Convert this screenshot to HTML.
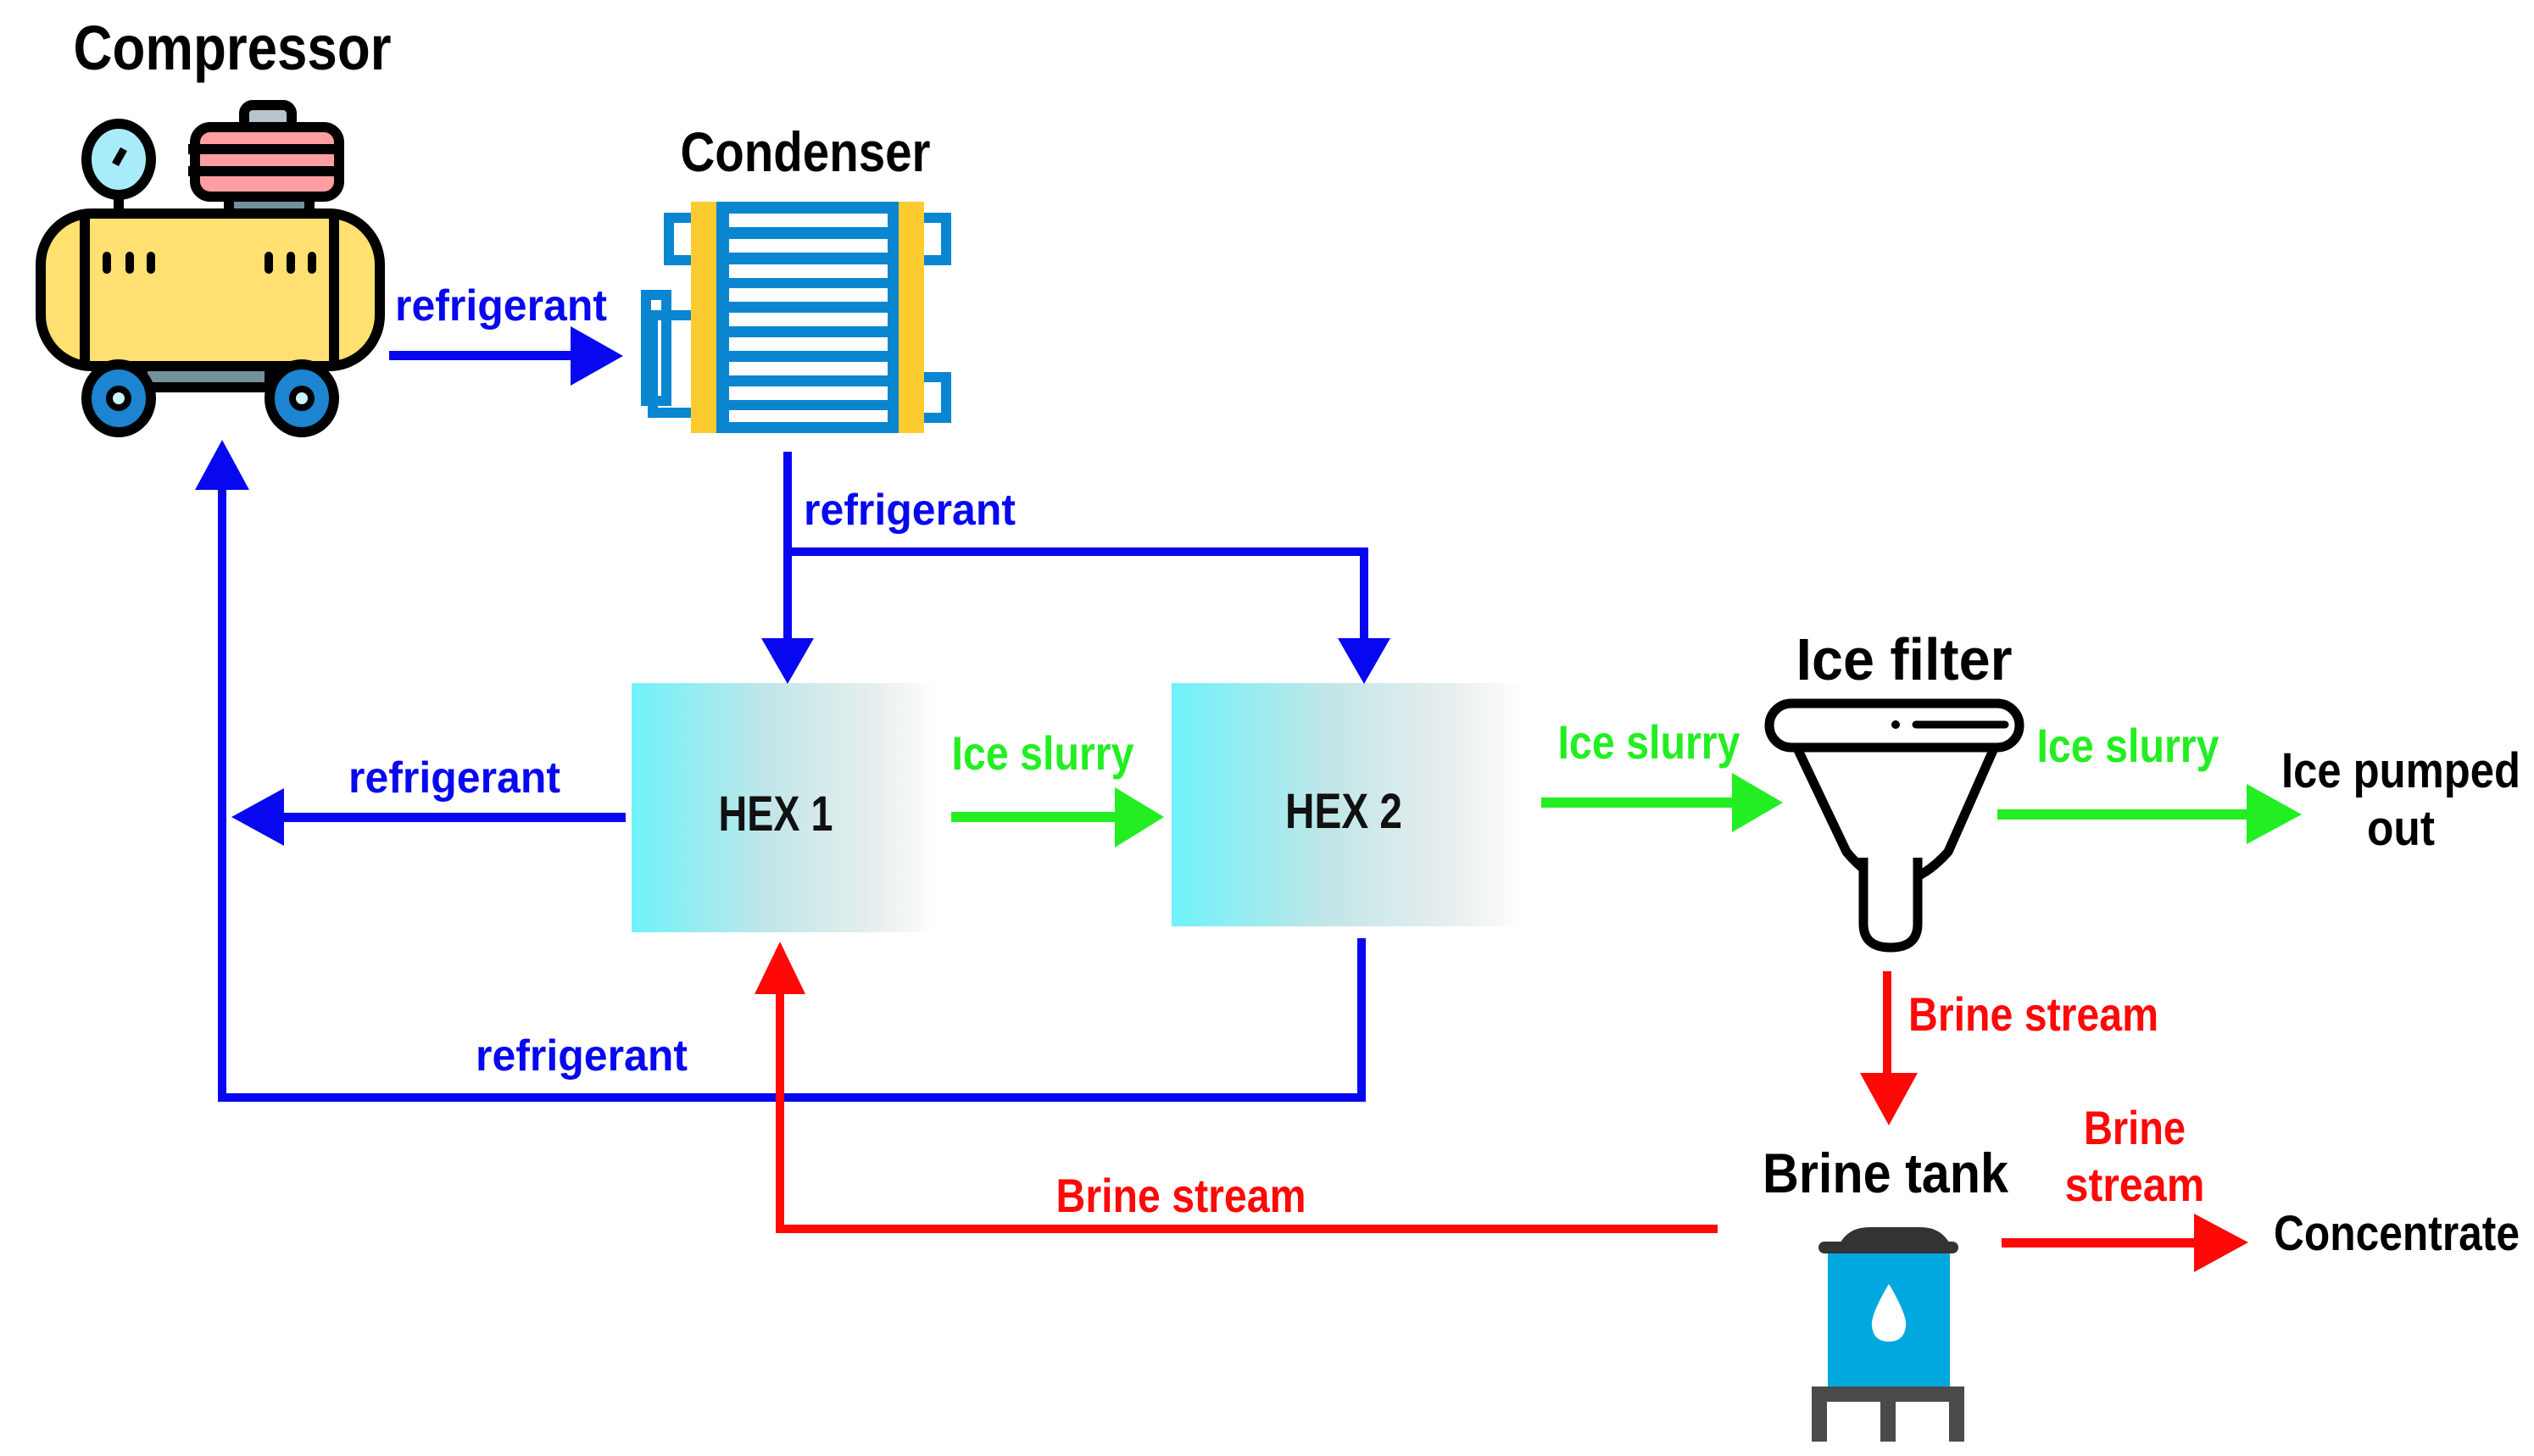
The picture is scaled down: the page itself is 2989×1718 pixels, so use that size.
<!DOCTYPE html>
<html><head><meta charset="utf-8"><style>
html,body{margin:0;padding:0;background:#fff;}
svg{display:block;}
text{font-family:"Liberation Sans",sans-serif;font-weight:bold;}
</style></head><body>
<svg width="2989" height="1718" viewBox="0 0 2989 1718" xmlns="http://www.w3.org/2000/svg">
<defs>
<linearGradient id="hg" x1="0" x2="1" y1="0" y2="0">
<stop offset="0" stop-color="#6ef2f8"/><stop offset="0.45" stop-color="#c2e6e8"/><stop offset="0.8" stop-color="#e8eeee"/><stop offset="1" stop-color="#ffffff"/>
</linearGradient>
</defs>

<!-- Compressor icon -->
<g stroke="#000" stroke-width="12" stroke-linejoin="round">
<rect x="288" y="124" width="56" height="40" rx="10" fill="#b8c4cc"/>
<rect x="230" y="150" width="170" height="82" rx="18" fill="#ff9ea0"/>
<line x1="222" y1="176" x2="405" y2="176"/>
<line x1="222" y1="202" x2="405" y2="202"/>
<rect x="270" y="232" width="95" height="20" fill="#74909a"/>
<line x1="140" y1="232" x2="140" y2="252"/>
<ellipse cx="140" cy="188" rx="38" ry="42" fill="#a8ecfa"/>
<line x1="146" y1="176" x2="136" y2="194" stroke-width="9"/>
<rect x="48" y="252" width="400" height="180" rx="60" fill="#ffe070"/>
<line x1="100" y1="258" x2="100" y2="428"/>
<line x1="394" y1="258" x2="394" y2="428"/>
<rect x="168" y="432" width="150" height="25" fill="#74909a"/>
<ellipse cx="140" cy="470" rx="38" ry="40" fill="#1c84d0"/>
<ellipse cx="356" cy="470" rx="38" ry="40" fill="#1c84d0"/>
<circle cx="140" cy="470" r="11" fill="#cdf2f8" stroke-width="8"/>
<circle cx="356" cy="470" r="11" fill="#cdf2f8" stroke-width="8"/>
</g>
<g stroke="#000" stroke-width="10" stroke-linecap="round">
<line x1="126" y1="302" x2="126" y2="318"/><line x1="153" y1="302" x2="153" y2="318"/><line x1="178" y1="302" x2="178" y2="318"/>
<line x1="317" y1="302" x2="317" y2="318"/><line x1="343" y1="302" x2="343" y2="318"/><line x1="368" y1="302" x2="368" y2="318"/>
</g>
<text x="274" y="82" font-size="74" text-anchor="middle" fill="#000" textLength="375" lengthAdjust="spacingAndGlyphs">Compressor</text>

<!-- Condenser icon -->
<g>
<rect x="789" y="257" width="34" height="50" fill="none" stroke="#0a86d0" stroke-width="12"/>
<rect x="1082" y="257" width="34" height="50" fill="none" stroke="#0a86d0" stroke-width="12"/>
<rect x="1082" y="445" width="34" height="48" fill="none" stroke="#0a86d0" stroke-width="12"/>
<rect x="762" y="348" width="24" height="125" fill="none" stroke="#0a86d0" stroke-width="12"/>
<rect x="770" y="372" width="52" height="115" fill="none" stroke="#0a86d0" stroke-width="12"/>
<rect x="815" y="238" width="275" height="273" fill="#fccb30"/>
<rect x="845" y="238" width="215" height="273" fill="#0a86d0"/>
<g fill="#fff">
<rect x="860" y="252" width="187" height="16"/><rect x="860" y="282" width="187" height="16"/>
<rect x="860" y="312" width="187" height="16"/><rect x="860" y="340" width="187" height="16"/>
<rect x="860" y="369" width="187" height="16"/><rect x="860" y="398" width="187" height="16"/>
<rect x="860" y="427" width="187" height="16"/><rect x="860" y="456" width="187" height="16"/>
<rect x="860" y="484" width="187" height="14"/>
</g>
</g>
<text x="950" y="202" font-size="66" text-anchor="middle" fill="#000" textLength="295" lengthAdjust="spacingAndGlyphs">Condenser</text>

<!-- HEX boxes -->
<rect x="745" y="806" width="360" height="294" fill="url(#hg)"/>
<rect x="1382" y="806" width="415" height="287" fill="url(#hg)"/>
<text x="915" y="980" font-size="58" text-anchor="middle" fill="#111" textLength="135" lengthAdjust="spacingAndGlyphs">HEX 1</text>
<text x="1585" y="977" font-size="58" text-anchor="middle" fill="#111" textLength="138" lengthAdjust="spacingAndGlyphs">HEX 2</text>

<!-- Blue refrigerant arrows -->
<g fill="#0808f0" stroke="none">
<rect x="459" y="414" width="216" height="11"/>
<polygon points="673,385 735,420 673,455"/>
<rect x="924" y="533" width="10" height="225"/>
<polygon points="898,753 960,753 929,807"/>
<rect x="924" y="646" width="690" height="10"/>
<rect x="1604" y="646" width="10" height="112"/>
<polygon points="1578,753 1640,753 1609,807"/>
<rect x="330" y="959" width="408" height="11"/>
<polygon points="335,930 335,998 273,964"/>
<rect x="1601" y="1107" width="10" height="193"/>
<rect x="257" y="1290" width="1354" height="10"/>
<rect x="257" y="575" width="10" height="725"/>
<polygon points="230,578 294,578 262,519"/>
</g>
<g fill="#0808f0" font-size="52">
<text x="591" y="378" text-anchor="middle" textLength="250" lengthAdjust="spacingAndGlyphs">refrigerant</text>
<text x="1073" y="619" text-anchor="middle" textLength="250" lengthAdjust="spacingAndGlyphs">refrigerant</text>
<text x="536" y="935" text-anchor="middle" textLength="250" lengthAdjust="spacingAndGlyphs">refrigerant</text>
<text x="686" y="1263" text-anchor="middle" textLength="250" lengthAdjust="spacingAndGlyphs">refrigerant</text>
</g>

<!-- Green ice slurry -->
<g fill="#22ee22">
<rect x="1122" y="958" width="200" height="12"/>
<polygon points="1315,929 1373,964 1315,1000"/>
<rect x="1818" y="941" width="230" height="12"/>
<polygon points="2043,912 2103,947 2043,982"/>
<rect x="2356" y="955" width="300" height="12"/>
<polygon points="2650,925 2715,961 2650,996"/>
</g>
<g fill="#22ee22" font-size="56">
<text x="1230" y="908" text-anchor="middle" textLength="215" lengthAdjust="spacingAndGlyphs">Ice slurry</text>
<text x="1945" y="895" text-anchor="middle" textLength="215" lengthAdjust="spacingAndGlyphs">Ice slurry</text>
<text x="2510" y="899" text-anchor="middle" textLength="215" lengthAdjust="spacingAndGlyphs">Ice slurry</text>
</g>

<!-- Ice filter -->
<text x="2246" y="802" font-size="70" text-anchor="middle" fill="#000" textLength="255" lengthAdjust="spacingAndGlyphs">Ice filter</text>
<g stroke="#000" stroke-width="11" fill="#fff" stroke-linejoin="round">
<path d="M2120 883 L2178 1005 Q2235 1075 2298 1005 L2352 883"/>
<path d="M2198 1012 L2198 1090 Q2198 1118 2230 1118 Q2262 1118 2262 1090 L2262 1012"/>
<rect x="2087" y="830" width="295" height="52" rx="26"/>
</g>
<circle cx="2236" cy="855" r="5" fill="#000"/>
<line x1="2260" y1="855" x2="2365" y2="855" stroke="#000" stroke-width="9" stroke-linecap="round"/>
<g fill="#000" font-size="58">
<text x="2832" y="929" text-anchor="middle" textLength="282" lengthAdjust="spacingAndGlyphs">Ice pumped</text>
<text x="2832" y="997" text-anchor="middle" textLength="80" lengthAdjust="spacingAndGlyphs">out</text>
</g>

<!-- Red brine -->
<g fill="#ff0808">
<rect x="2221" y="1146" width="10" height="126"/>
<polygon points="2194,1266 2262,1266 2228,1328"/>
<rect x="2361" y="1461" width="232" height="11"/>
<polygon points="2588,1432 2652,1466 2588,1501"/>
<rect x="915" y="1445" width="1111" height="10"/>
<rect x="915" y="1168" width="10" height="287"/>
<polygon points="890,1173 950,1173 920,1111"/>
</g>
<g fill="#ff0808" font-size="56">
<text x="2251" y="1216" textLength="295" lengthAdjust="spacingAndGlyphs">Brine stream</text>
<text x="2518" y="1350" text-anchor="middle" textLength="120" lengthAdjust="spacingAndGlyphs">Brine</text>
<text x="2518" y="1417" text-anchor="middle" textLength="165" lengthAdjust="spacingAndGlyphs">stream</text>
<text x="1393" y="1430" text-anchor="middle" textLength="295" lengthAdjust="spacingAndGlyphs">Brine stream</text>
</g>
<text x="2224" y="1407" font-size="66" text-anchor="middle" fill="#000" textLength="290" lengthAdjust="spacingAndGlyphs">Brine tank</text>
<text x="2682" y="1475" font-size="58" fill="#000" textLength="290" lengthAdjust="spacingAndGlyphs">Concentrate</text>

<!-- Brine tank icon -->
<path d="M2170 1468 Q2180 1448 2205 1448 L2265 1448 Q2290 1448 2300 1468 Z" fill="#333"/>
<rect x="2145" y="1465" width="165" height="14" rx="7" fill="#333"/>
<rect x="2156" y="1479" width="144" height="160" fill="#00a8e0"/>
<path d="M2228 1515 Q2206 1552 2208 1565 Q2210 1583 2228 1583 Q2246 1583 2248 1565 Q2250 1552 2228 1515 Z" fill="#fff"/>
<rect x="2137" y="1636" width="180" height="18" fill="#4a4a4a"/>
<rect x="2137" y="1636" width="18" height="65" fill="#4a4a4a"/>
<rect x="2218" y="1636" width="18" height="65" fill="#4a4a4a"/>
<rect x="2299" y="1636" width="18" height="65" fill="#4a4a4a"/>
</svg>
</body></html>
